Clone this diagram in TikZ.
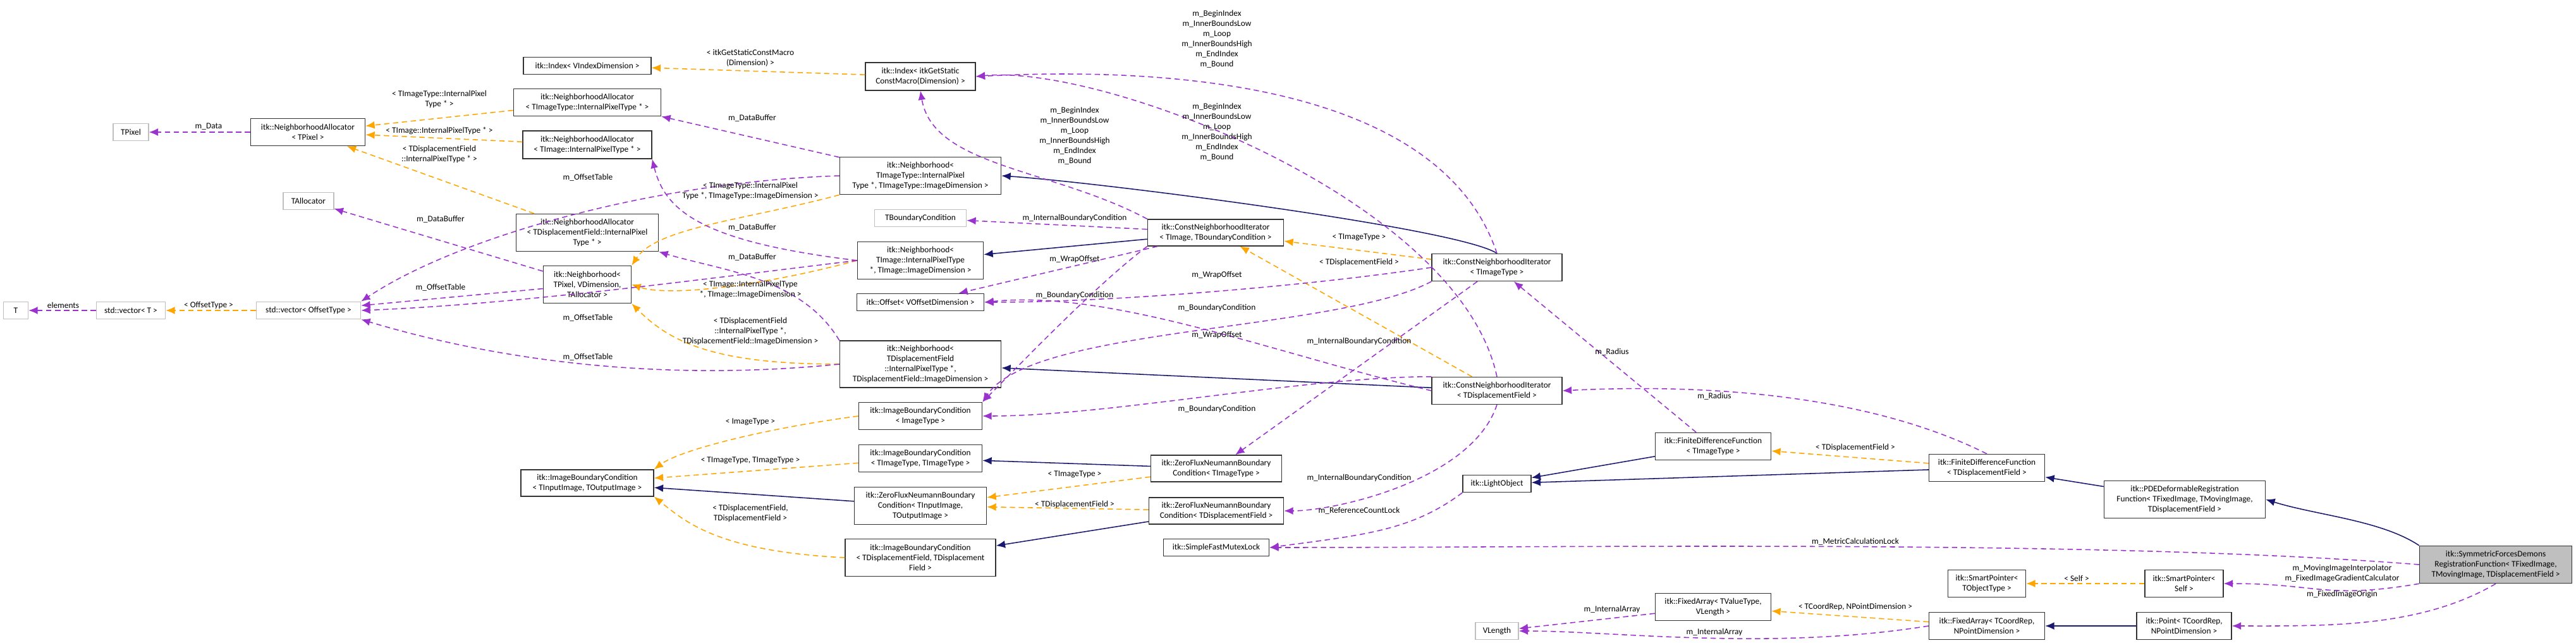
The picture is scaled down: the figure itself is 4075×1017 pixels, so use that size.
\documentclass[tikz,border=0pt]{standalone}
\usepackage{fontspec}
\setmainfont{Carlito}
\usetikzlibrary{arrows.meta,positioning}
\definecolor{usecol}{HTML}{9A32CD}
\definecolor{tplcol}{HTML}{FFA500}
\definecolor{inhcol}{HTML}{191970}
\tikzset{>={Latex[length=0.36cm,width=0.3cm]}}
\tikzset{
  cls/.style={draw=black!80, line width=0.9pt, fill=white, align=center, inner sep=1pt, font=\fontsize{9.5}{11.4}\selectfont},
  ext/.style={cls, draw=black!25},
  cur/.style={cls, fill=black!25},
  lbl/.style={align=center, inner sep=0pt, font=\fontsize{9.5}{11.4}\selectfont},
  use/.style={->, draw=usecol, line width=1.1pt, dash pattern=on 6pt off 4pt},
  tpl/.style={->, draw=tplcol, line width=1.1pt, dash pattern=on 6pt off 4pt},
  inh/.style={->, draw=inhcol, line width=1.1pt}
}
\begin{document}
\begin{tikzpicture}[x=0.025cm, y=-0.025cm]
\useasboundingbox (0,0) rectangle (4075,1017);
% nodes, left part
\node[ext, minimum width=1.4cm, minimum height=0.68cm] (pix) at (207,209) {TPixel};
\node[cls, minimum width=4.53cm, minimum height=1.08cm] (naPix) at (487,209) {itk::NeighborhoodAllocator\\< TPixel >};
\node[ext, minimum width=2cm, minimum height=0.68cm] (alloc) at (488,318) {TAllocator};
\node[ext, minimum width=0.98cm, minimum height=0.68cm] (t) at (25,491) {T};
\node[ext, minimum width=2.73cm, minimum height=0.68cm] (vecT) at (207,491) {std::vector< T >};
\node[ext, minimum width=4.13cm, minimum height=0.68cm] (vecOff) at (488,491) {std::vector< OffsetType >};
\node[cls, minimum width=5.05cm, minimum height=0.68cm] (idxV) at (929,104) {itk::Index< VIndexDimension >};
\node[cls, minimum width=5.83cm, minimum height=1.08cm] (naTIT) at (929,162) {itk::NeighborhoodAllocator\\< TImageType::InternalPixelType * >};
\node[cls, minimum width=5.1cm, minimum height=1.1cm] (naTI) at (929,229) {itk::NeighborhoodAllocator\\< TImage::InternalPixelType * >};
\node[cls, minimum width=5.63cm, minimum height=1.48cm] (naTD) at (929,368) {itk::NeighborhoodAllocator\\< TDisplacementField::InternalPixel\\Type * >};
\node[cls, minimum width=3.48cm, minimum height=1.48cm] (nbPix) at (929,450) {itk::Neighborhood<\\ TPixel, VDimension,\\ TAllocator >};
\node[cls, minimum width=5.25cm, minimum height=1.05cm] (ibcIO) at (929,764) {itk::ImageBoundaryCondition\\< TInputImage, TOutputImage >};
% nodes, middle column
\node[cls, minimum width=4.35cm, minimum height=1.1cm] (idxG) at (1456,121) {itk::Index< itkGetStatic\\ConstMacro(Dimension) >};
\node[cls, minimum width=6.38cm, minimum height=1.48cm] (nbTIT) at (1456,278) {itk::Neighborhood<\\ TImageType::InternalPixel\\Type *, TImageType::ImageDimension >};
\node[ext, minimum width=3.63cm, minimum height=0.66cm] (tbc) at (1456,345) {TBoundaryCondition};
\node[cls, minimum width=4.98cm, minimum height=1.48cm] (nbTI) at (1456,412) {itk::Neighborhood<\\ TImage::InternalPixelType\\ *, TImage::ImageDimension >};
\node[cls, minimum width=5.03cm, minimum height=0.68cm] (off) at (1456,478) {itk::Offset< VOffsetDimension >};
\node[cls, minimum width=6.38cm, minimum height=1.85cm] (nbTD) at (1456,576) {itk::Neighborhood<\\ TDisplacementField\\ ::InternalPixelType *,\\ TDisplacementField::ImageDimension >};
\node[cls, minimum width=4.88cm, minimum height=1.08cm] (ibcIT) at (1456,658) {itk::ImageBoundaryCondition\\< ImageType >};
\node[cls, minimum width=4.88cm, minimum height=1.08cm] (ibcTT) at (1456,725) {itk::ImageBoundaryCondition\\< TImageType, TImageType >};
\node[cls, minimum width=5.23cm, minimum height=1.48cm] (zfIO) at (1456,800) {itk::ZeroFluxNeumannBoundary\\Condition< TInputImage,\\ TOutputImage >};
\node[cls, minimum width=5.95cm, minimum height=1.48cm] (ibcDD) at (1456,882) {itk::ImageBoundaryCondition\\< TDisplacementField, TDisplacement\\Field >};
\node[cls, minimum width=5.38cm, minimum height=1.05cm] (cniA) at (1923,368) {itk::ConstNeighborhoodIterator\\< TImage, TBoundaryCondition >};
\node[cls, minimum width=5.18cm, minimum height=1.05cm] (zfTIT) at (1924,741) {itk::ZeroFluxNeumannBoundary\\Condition< TImageType >};
\node[cls, minimum width=5.33cm, minimum height=1.05cm] (zfTD) at (1924,808) {itk::ZeroFluxNeumannBoundary\\Condition< TDisplacementField >};
\node[cls, minimum width=4.18cm, minimum height=0.68cm] (sfml) at (1924,866) {itk::SimpleFastMutexLock};
% nodes, right part
\node[cls, minimum width=5.15cm, minimum height=1.08cm] (cniTIT) at (2368,423) {itk::ConstNeighborhoodIterator\\< TImageType >};
\node[cls, minimum width=5.15cm, minimum height=1.08cm] (cniTD) at (2368,618) {itk::ConstNeighborhoodIterator\\< TDisplacementField >};
\node[cls, minimum width=2.7cm, minimum height=0.68cm] (light) at (2368,765) {itk::LightObject};
\node[ext, minimum width=1.7cm, minimum height=0.68cm] (vlen) at (2368,998) {VLength};
\node[cls, minimum width=4.58cm, minimum height=1.08cm] (fdfTIT) at (2710,706) {itk::FiniteDifferenceFunction\\< TImageType >};
\node[cls, minimum width=4.58cm, minimum height=1.08cm] (faTV) at (2710,960) {itk::FixedArray< TValueType,\\ VLength >};
\node[cls, minimum width=4.58cm, minimum height=1.08cm] (fdfTD) at (3143,740) {itk::FiniteDifferenceFunction\\< TDisplacementField >};
\node[cls, minimum width=3.08cm, minimum height=1.08cm] (spT) at (3143,923) {itk::SmartPointer<\\ TObjectType >};
\node[cls, minimum width=4.58cm, minimum height=1.08cm] (faCR) at (3143,990) {itk::FixedArray< TCoordRep,\\ NPointDimension >};
\node[cls, minimum width=6.38cm, minimum height=1.48cm] (pde) at (3456,790) {itk::PDEDeformableRegistration\\Function< TFixedImage, TMovingImage,\\ TDisplacementField >};
\node[cls, minimum width=3.1cm, minimum height=1.08cm] (spS) at (3455,923) {itk::SmartPointer<\\ Self >};
\node[cls, minimum width=3.75cm, minimum height=1.08cm] (pt) at (3455,990) {itk::Point< TCoordRep,\\ NPointDimension >};
\node[cur, minimum width=6.03cm, minimum height=1.48cm] (sym) at (3948,893) {itk::SymmetricForcesDemons\\RegistrationFunction< TFixedImage,\\ TMovingImage, TDisplacementField >};
% inheritance
\draw[inh] (cniA) -- (nbTI);
\draw[inh] (cniTIT.north) .. controls +(-60,-40) and +(150,10) .. (nbTIT.east);
\draw[inh] (cniTD) -- (nbTD);
\draw[inh] (zfTIT) -- (ibcTT);
\draw[inh] (zfIO) -- (ibcIO);
\draw[inh] (zfTD) -- (ibcDD);
\draw[inh] (fdfTIT) -- (light);
\draw[inh] (fdfTD) -- (light);
\draw[inh] (pde) -- (fdfTD);
\draw[inh] (sym.north west) .. controls +(-60,-40) and +(80,25) .. (pde.east);
\draw[inh] (pt) -- (faCR);
% template instances
\draw[tpl] (naTIT) -- (naPix);
\draw[tpl] (naTI) -- (naPix);
\draw[tpl] (naTD) -- (naPix);
\draw[tpl] (vecOff) -- (vecT);
\draw[tpl] (idxG) -- (idxV);
\draw[tpl] (nbTIT.south west) .. controls +(-150,40) and +(40,-60) .. (nbPix.north east);
\draw[tpl] (nbTI.west) .. controls +(-150,40) and +(60,20) .. (nbPix.east);
\draw[tpl] (nbTD.west) .. controls +(-200,0) and +(60,60) .. (nbPix.south east);
\draw[tpl] (cniTIT) -- (cniA);
\draw[tpl] (cniTD) -- (cniA);
\draw[tpl] (ibcIT.west) .. controls +(-150,20) and +(40,-30) .. (ibcIO.north east);
\draw[tpl] (ibcTT) -- (ibcIO);
\draw[tpl] (ibcDD.west) .. controls +(-200,-10) and +(50,40) .. (ibcIO.south east);
\draw[tpl] (zfTIT) -- (zfIO);
\draw[tpl] (zfTD) -- (zfIO);
\draw[tpl] (fdfTD) -- (fdfTIT);
\draw[tpl] (faCR) -- (faTV);
\draw[tpl] (spS) -- (spT);
% members
\draw[use] (naPix) -- (pix);
\draw[use] (nbPix) -- (alloc);
\draw[use] (nbPix) -- (vecOff);
\draw[use] (vecT) -- (t);
\draw[use] (nbTIT) -- (naTIT.south east);
\draw[use] (nbTIT.west) .. controls +(-300,10) and +(150,-100) .. (vecOff.north east);
\draw[use] (nbTI.west) .. controls +(-250,-30) and +(20,80) .. (naTI.south east);
\draw[use] (nbTI.west) .. controls +(-250,30) and +(250,-10) .. (vecOff.east);
\draw[use] (nbTD.north west) .. controls +(-60,-100) and +(100,30) .. (naTD.south east);
\draw[use] (nbTD.west) .. controls +(-300,30) and +(200,60) .. (vecOff.south east);
\draw[use] (cniA) -- (tbc);
\draw[use] (cniA.north west) .. controls +(-150,-80) and +(20,120) .. (idxG.south);
\draw[use] (cniA) -- (off);
\draw[use] (cniA.south west) .. controls +(-80,60) and +(60,-60) .. (ibcIT.north east);
\draw[use] (cniTIT.north) .. controls +(-100,-300) and +(200,-10) .. (idxG.east);
\draw[use] (cniTIT.west) .. controls +(-200,30) and +(200,0) .. (off.east);
\draw[use] (cniTIT.south west) .. controls +(-150,80) and +(80,-120) .. (ibcIT.north east);
\draw[use] (cniTIT) -- (zfTIT);
\draw[use] (cniTD.north) .. controls +(-60,-280) and +(200,-20) .. (idxG.east);
\draw[use] (cniTD.west) .. controls +(-250,-60) and +(200,-20) .. (off.east);
\draw[use] (cniTD.north west) .. controls +(-200,0) and +(200,0) .. (ibcIT.east);
\draw[use] (cniTD.south) .. controls +(-40,120) and +(80,0) .. (zfTD.east);
\draw[use] (fdfTIT) -- (cniTIT);
\draw[use] (fdfTD.north) .. controls +(-200,-100) and +(200,-10) .. (cniTD.east);
\draw[use] (light.south west) .. controls +(-80,60) and +(150,-20) .. (sfml.east);
\draw[use] (sym.west) .. controls +(-500,-40) and +(500,0) .. (sfml.east);
\draw[use] (sym.south west) .. controls +(-150,25) and +(150,0) .. (spS.east);
\draw[use] (sym.south) .. controls +(-120,70) and +(150,0) .. (pt.east);
\draw[use] (faTV) -- (vlen);
\draw[use] (faCR.west) .. controls +(-250,40) and +(150,0) .. (vlen.east);
% labels
\node[lbl] (l01) at (330,200) {m\_Data};
\node[lbl] (l02) at (695,157) {< TImageType::InternalPixel\\Type * >};
\node[lbl] (l03) at (695,207) {< TImage::InternalPixelType * >};
\node[lbl] (l04) at (695,244) {< TDisplacementField\\::InternalPixelType * >};
\node[lbl] (l05) at (697,347) {m\_DataBuffer};
\node[lbl] (l06) at (930,281) {m\_OffsetTable};
\node[lbl] (l07) at (697,455) {m\_OffsetTable};
\node[lbl] (l08) at (930,503) {m\_OffsetTable};
\node[lbl] (l09) at (930,565) {m\_OffsetTable};
\node[lbl] (l10) at (100,483) {elements};
\node[lbl] (l11) at (330,483) {< OffsetType >};
\node[lbl] (l12) at (1187,92) {< itkGetStaticConstMacro\\(Dimension) >};
\node[lbl] (l13) at (1190,187) {m\_DataBuffer};
\node[lbl] (l14) at (1187,302) {< TImageType::InternalPixel\\Type *, TImageType::ImageDimension >};
\node[lbl] (l15) at (1190,360) {m\_DataBuffer};
\node[lbl] (l16) at (1190,407) {m\_DataBuffer};
\node[lbl] (l17) at (1187,458) {< TImage::InternalPixelType\\*, TImage::ImageDimension >};
\node[lbl] (l18) at (1187,524) {< TDisplacementField\\::InternalPixelType *,\\TDisplacementField::ImageDimension >};
\node[lbl] (l19) at (1187,667) {< ImageType >};
\node[lbl] (l20) at (1187,728) {< TImageType, TImageType >};
\node[lbl] (l21) at (1187,812) {< TDisplacementField,\\TDisplacementField >};
\node[lbl] (l22) at (1700,215) {m\_BeginIndex\\m\_InnerBoundsLow\\m\_Loop\\m\_InnerBoundsHigh\\m\_EndIndex\\m\_Bound};
\node[lbl] (l23) at (1700,345) {m\_InternalBoundaryCondition};
\node[lbl] (l24) at (1700,410) {m\_WrapOffset};
\node[lbl] (l25) at (1700,467) {m\_BoundaryCondition};
\node[lbl] (l26) at (1700,750) {< TImageType >};
\node[lbl] (l27) at (1700,798) {< TDisplacementField >};
\node[lbl] (l28) at (1925,62) {m\_BeginIndex\\m\_InnerBoundsLow\\m\_Loop\\m\_InnerBoundsHigh\\m\_EndIndex\\m\_Bound};
\node[lbl] (l29) at (1925,209) {m\_BeginIndex\\m\_InnerBoundsLow\\m\_Loop\\m\_InnerBoundsHigh\\m\_EndIndex\\m\_Bound};
\node[lbl] (l30) at (1925,435) {m\_WrapOffset};
\node[lbl] (l31) at (1925,487) {m\_BoundaryCondition};
\node[lbl] (l32) at (1925,530) {m\_WrapOffset};
\node[lbl] (l33) at (1925,647) {m\_BoundaryCondition};
\node[lbl] (l34) at (2150,375) {< TImageType >};
\node[lbl] (l35) at (2150,415) {< TDisplacementField >};
\node[lbl] (l36) at (2150,540) {m\_InternalBoundaryCondition};
\node[lbl] (l37) at (2150,756) {m\_InternalBoundaryCondition};
\node[lbl] (l38) at (2150,808) {m\_ReferenceCountLock};
\node[lbl] (l39) at (2550,557) {m\_Radius};
\node[lbl] (l40) at (2712,627) {m\_Radius};
\node[lbl] (l41) at (2935,708) {< TDisplacementField >};
\node[lbl] (l42) at (2935,857) {m\_MetricCalculationLock};
\node[lbl] (l43) at (2550,964) {m\_InternalArray};
\node[lbl] (l44) at (2712,1000) {m\_InternalArray};
\node[lbl] (l45) at (2935,960) {< TCoordRep, NPointDimension >};
\node[lbl] (l46) at (3285,915) {< Self >};
\node[lbl] (l47) at (3705,907) {m\_MovingImageInterpolator\\m\_FixedImageGradientCalculator};
\node[lbl] (l48) at (3705,940) {m\_FixedImageOrigin};
\end{tikzpicture}
\end{document}
